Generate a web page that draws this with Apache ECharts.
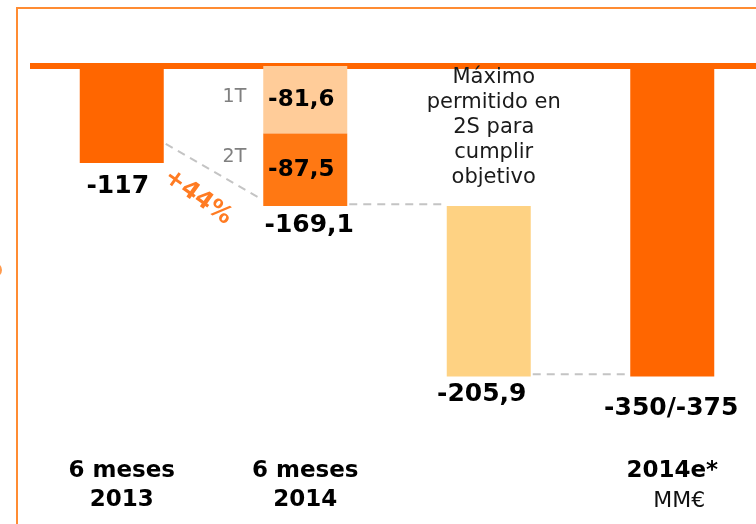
<!DOCTYPE html>
<html>
<head>
<meta charset="utf-8">
<script src="https://cdn.jsdelivr.net/npm/echarts@6/dist/echarts.min.js"></script>
<style>
  html, body { margin: 0; padding: 0; background: #fff; overflow: hidden; }
  #main { width: 766px; height: 524px; }
</style>
</head>
<body>
<div id="main"></div>
<script>
// datos (MM€)
const categories = ['6 meses\n2013', '6 meses\n2014', '', '2014e*'];
const unitLabel = 'MM€';
const firstPart = [-117, -81.6, null, -375];
const secondPart = [null, -87.5, null, null];
const hiddenBase = [null, null, -169.1, null];
const maxAllowed = [null, null, -205.9, null];
const totalLabels = ['-117', '-169,1', '-205,9', '-350/-375'];
const quarterLabels = ['1T', '2T'];
const noteText = 'Máximo\npermitido en\n2S para\ncumplir\nobjetivo';
// lineas guia: [desde, valor, hasta, valor]
const connectors = [[0, -94, 1, -160], [1, -167, 2, -167], [2, -372, 3, -372]];
const connectorLabels = ['+44%', '', ''];

const ORANGE = '#ff6600';
const ORANGE_2T = '#ff7813';
const LIGHT = '#ffcc99';
const YELLOW = '#fed283';
const FONT = 'DejaVu Sans';
const barWidth = 84;

const fmt = v => String(v).replace('.', ',');

// fin de cada barra apilada
const totals = categories.map((c, i) =>
  (hiddenBase[i] || 0) + (firstPart[i] || 0) + (secondPart[i] || 0) + (maxAllowed[i] || 0));
const totalOffsets = [[-4, 12], [4, 7], [-7, 6], [-1, 20]];

// centro de los tramos 1T y 2T
const quarterPoints = [
  [1, firstPart[1] / 2],
  [1, firstPart[1] + secondPart[1] / 2]
];
const quarterOffsets = [[2, -3], [2, -13]];

const myChart = echarts.init(document.getElementById('main'));

const option = {
  animation: false,
  graphic: [
    { type: 'rect', shape: { x: 17, y: 8, width: 800, height: 600 },
      style: { fill: 'none', stroke: '#ff8c33', lineWidth: 2 } },
    { type: 'circle', shape: { cx: -5, cy: 270, r: 7 }, style: { fill: '#ff9a4d' } }
  ],
  grid: { left: 30, top: 66, width: 734, height: 386 },
  xAxis: [{
    type: 'category',
    data: categories,
    position: 'top',
    offset: 3,
    axisLine: { lineStyle: { color: ORANGE, width: 6, cap: 'butt' } },
    axisTick: { show: false },
    axisLabel: { show: false }
  }, {
    type: 'category',
    data: categories,
    position: 'bottom',
    axisLine: { show: false },
    axisTick: { show: false },
    axisLabel: {
      margin: 5,
      formatter: v => {
        if (!v) return '';
        let s = v.split('\n').map(t => '{b|' + t + '}').join('\n');
        if (v === categories[3]) s += '\n{u|' + unitLabel + '}';
        return s;
      },
      rich: {
        b: { fontFamily: FONT, fontWeight: 'bold', fontSize: 23, lineHeight: 29, color: '#000' },
        u: { fontFamily: FONT, fontSize: 22, lineHeight: 31, color: '#111', padding: [0, 0, 0, 14] }
      }
    }
  }],
  yAxis: {
    type: 'value',
    min: -466,
    max: 0,
    axisLine: { show: false },
    axisTick: { show: false },
    axisLabel: { show: false },
    splitLine: { show: false }
  },
  series: [{
    type: 'bar',
    stack: 'a',
    barWidth: barWidth,
    data: hiddenBase,
    itemStyle: { color: 'transparent' }
  }, {
    type: 'bar',
    stack: 'a',
    barWidth: barWidth,
    data: firstPart,
    itemStyle: { color: p => p.dataIndex === 1 ? LIGHT : ORANGE },
    label: {
      show: true,
      position: 'inside',
      offset: [-4, 0],
      formatter: p => p.dataIndex === 1 ? fmt(p.value) : '',
      fontFamily: FONT, fontWeight: 'bold', fontSize: 23, color: '#000'
    }
  }, {
    type: 'bar',
    stack: 'a',
    barWidth: barWidth,
    data: secondPart,
    itemStyle: { color: ORANGE_2T },
    label: {
      show: true,
      position: 'inside',
      offset: [-4, 0],
      formatter: p => fmt(p.value),
      fontFamily: FONT, fontWeight: 'bold', fontSize: 23, color: '#000'
    }
  }, {
    type: 'bar',
    stack: 'a',
    barWidth: barWidth,
    data: maxAllowed,
    itemStyle: { color: YELLOW },
    label: {
      show: true,
      position: 'top',
      distance: 16,
      offset: [5, 0],
      formatter: () => noteText,
      fontFamily: FONT, fontSize: 21, lineHeight: 25, color: '#1a1a1a'
    }
  }, {
    // etiquetas de total bajo cada barra
    type: 'scatter',
    symbolSize: 0,
    silent: true,
    itemStyle: { opacity: 1 },
    data: totals.map((v, i) => ({
      value: [i, v],
      label: { offset: totalOffsets[i] }
    })),
    label: {
      show: true,
      position: 'bottom',
      distance: 0,
      formatter: p => totalLabels[p.dataIndex],
      fontFamily: FONT, fontWeight: 'bold', fontSize: 25, lineHeight: 24, color: '#000'
    }
  }, {
    // 1T / 2T
    type: 'scatter',
    symbolSize: 0,
    silent: true,
    itemStyle: { opacity: 1 },
    data: quarterPoints.map((pt, i) => ({
      value: pt,
      label: { offset: quarterOffsets[i] }
    })),
    label: {
      show: true,
      position: 'left',
      distance: barWidth / 2 + 19,
      formatter: p => quarterLabels[p.dataIndex],
      fontFamily: FONT, fontSize: 19, color: '#808080'
    }
  }, {
    // lineas discontinuas y +44%
    type: 'custom',
    silent: true,
    data: connectors,
    encode: { x: [0, 2], y: [1, 3] },
    renderItem: (params, api) => {
      const a = api.coord([api.value(0), api.value(1)]);
      const b = api.coord([api.value(2), api.value(3)]);
      const x1 = a[0] + barWidth / 2 + 2;
      const x2 = b[0] - barWidth / 2 - 3;
      const children = [{
        type: 'line',
        shape: { x1: x1, y1: a[1], x2: x2, y2: b[1] },
        style: { stroke: '#c4c4c4', lineWidth: 2, lineDash: [8, 6] }
      }];
      const txt = connectorLabels[params.dataIndex];
      if (txt) {
        const ang = Math.atan2(b[1] - a[1], x2 - x1);
        const mx = (x1 + x2) / 2, my = (a[1] + b[1]) / 2;
        children.push({
          type: 'text',
          x: mx - Math.sin(ang) * 30,
          y: my + Math.cos(ang) * 30,
          rotation: -(ang + 0.1),
          style: {
            text: txt, fill: '#ff7b22',
            font: 'bold 24px "DejaVu Sans"',
            align: 'center', verticalAlign: 'middle'
          }
        });
      }
      return { type: 'group', children: children };
    }
  }]
};

myChart.setOption(option);
</script>
</body>
</html>
